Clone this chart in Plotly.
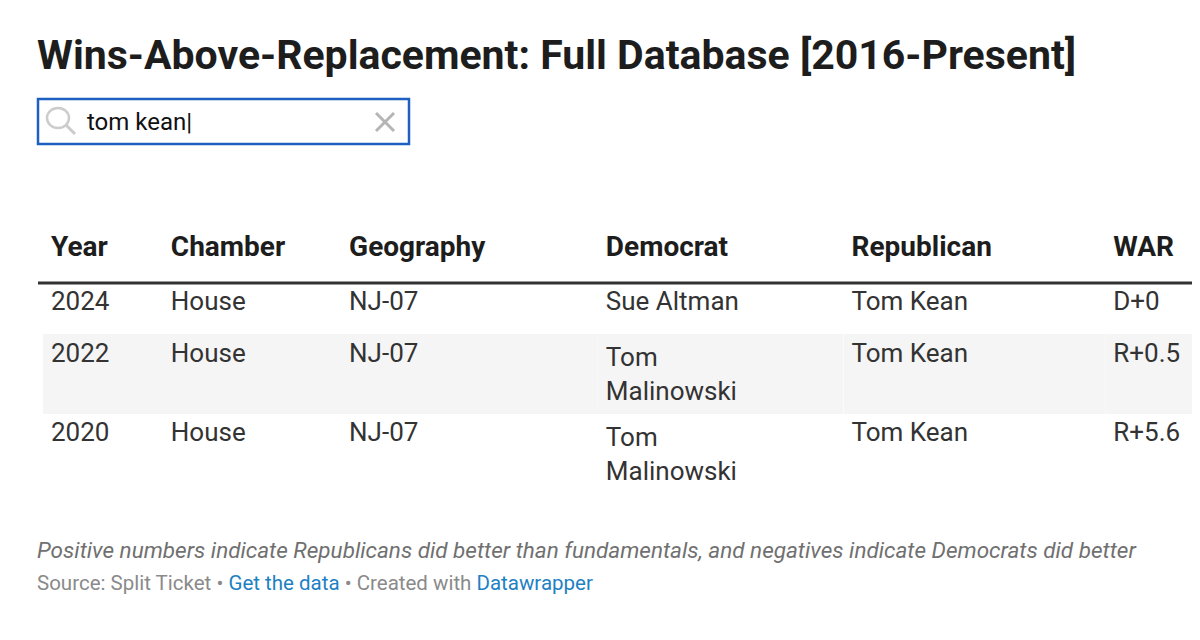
import plotly.graph_objects as go

# table data
years = ["2024", "2022", "2020"]
chambers = ["House", "House", "House"]
geographies = ["NJ-07", "NJ-07", "NJ-07"]
democrats = ["Sue Altman", "Tom<br>Malinowski", "Tom<br>Malinowski"]
republicans = ["Tom Kean", "Tom Kean", "Tom Kean"]
war = ["D+0", "R+0.5", "R+5.6"]
headers = ["Year", "Chamber", "Geography", "Democrat", "Republican", "WAR"]

W, H = 1200, 640
# page body adds an 8px offset; compensate so coordinates match the reference
def px_x(x): return (x - 8) / W
def px_y(y): return 1 - (y - 8) / H

row_fill = ["white", "#f5f5f5", "white"]

fig = go.Figure(go.Table(
    domain=dict(x=[px_x(43), 1], y=[px_y(505), px_y(222)]),
    columnwidth=[119, 177, 255, 244, 260, 102],
    header=dict(
        values=["<b>%s</b>" % h for h in headers],
        fill_color="white", line=dict(width=0),
        font=dict(family="Roboto", size=28, color="#1d1d1d"),
        align="left", height=60,
    ),
    cells=dict(
        values=[years, chambers, geographies, democrats, republicans, war],
        fill_color=[row_fill] * 6, line=dict(width=0),
        font=dict(family="Roboto", size=26, color="#333333"),
        align="left", height=52,
    ),
))

# thick rule under header
fig.add_shape(type="line", xref="paper", yref="paper",
              x0=px_x(38), x1=1, y0=px_y(283), y1=px_y(283),
              line=dict(color="#333333", width=3))

# search box
fig.add_shape(type="rect", xref="paper", yref="paper",
              x0=px_x(38), x1=px_x(409), y0=px_y(144), y1=px_y(99),
              line=dict(color="#1f5fc1", width=2.5), fillcolor="white")
fig.add_shape(type="circle", xref="paper", yref="paper",
              x0=px_x(47), x1=px_x(69), y0=px_y(128), y1=px_y(108),
              line=dict(color="#cccccc", width=2.5))
fig.add_shape(type="line", xref="paper", yref="paper",
              x0=px_x(66), x1=px_x(75), y0=px_y(125), y1=px_y(134),
              line=dict(color="#cccccc", width=3))
fig.add_shape(type="line", xref="paper", yref="paper",
              x0=px_x(376), x1=px_x(394), y0=px_y(113), y1=px_y(131),
              line=dict(color="#b5b5b5", width=3))
fig.add_shape(type="line", xref="paper", yref="paper",
              x0=px_x(376), x1=px_x(394), y0=px_y(131), y1=px_y(113),
              line=dict(color="#b5b5b5", width=3))
fig.add_annotation(x=px_x(85), y=px_y(122), xref="paper", yref="paper",
                   text="tom kean|", showarrow=False, xanchor="left", yanchor="middle",
                   font=dict(family="Roboto", size=24, color="#111111"))

# title
fig.add_annotation(x=px_x(35), y=px_y(55), xref="paper", yref="paper",
                   text="<b>Wins-Above-Replacement: Full Database [2016-Present]</b>",
                   showarrow=False, xanchor="left", yanchor="middle",
                   font=dict(family="Roboto", size=41, color="#1d1d1d"))

# notes
fig.add_annotation(x=px_x(35), y=px_y(550), xref="paper", yref="paper",
                   text="<i>Positive numbers indicate Republicans did better than fundamentals, and negatives indicate Democrats did better</i>",
                   showarrow=False, xanchor="left", yanchor="middle",
                   font=dict(family="Roboto", size=22.5, color="#707070"))
fig.add_annotation(x=px_x(35), y=px_y(583), xref="paper", yref="paper",
                   text="Source: Split Ticket • <span style='color:#1d81c4'>Get the data</span> • Created with <span style='color:#1d81c4'>Datawrapper</span>",
                   showarrow=False, xanchor="left", yanchor="middle",
                   font=dict(family="Roboto", size=20.5, color="#8a8a8a"))

fig.update_layout(width=W, height=H, margin=dict(l=0, r=0, t=0, b=0),
                  paper_bgcolor="white", plot_bgcolor="white")
fig.write_html("out.html")
